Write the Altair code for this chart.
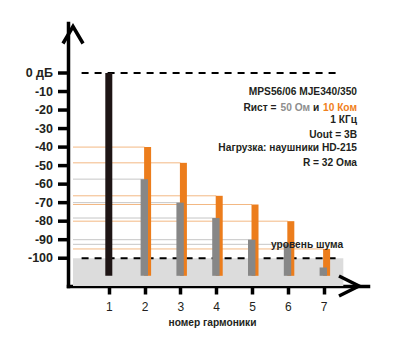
import altair as alt
import pandas as pd

# ---- data ----
harmonics = [1, 2, 3, 4, 5, 6, 7]
fundamental_db = [0, None, None, None, None, None, None]
gray_db = [None, -57.3, -70.0, -78.3, -90.0, -92.5, -105.0]     # Rист = 50 Ом
orange_db = [None, -40.0, -48.5, -66.3, -71.0, -80.0, -95.0]    # Rист = 10 Ком
y_ticks = [0, -10, -20, -30, -40, -50, -60, -70, -80, -90, -100]
y_tick_labels = ["0 дБ", "-10", "-20", "-30", "-40", "-50", "-60", "-70", "-80", "-90", "-100"]
noise_db = -100
bar_floor = -109.5

X_DOM = [0, 8.1]
Y_DOM = [-115, 27]

FONT = "Liberation Sans"
INK = "#231f20"
ORANGE = "#ec7d1c"
GRAY = "#878787"
BLACK = "#1e1515"

df = pd.DataFrame({"h": harmonics, "fund": fundamental_db, "gray": gray_db, "orange": orange_db})
df["zero"] = 0.0
df["floor"] = bar_floor
fund_df = df.dropna(subset=["fund"])
gray_df = df.dropna(subset=["gray"])
orange_df = df.dropna(subset=["orange"])
gray_lines_df = gray_df[gray_df["gray"] > noise_db]
orange_lines_df = orange_df[orange_df["orange"] > noise_db]
ytick_df = pd.DataFrame({"v": y_ticks, "lab": y_tick_labels})

xs = alt.Scale(domain=X_DOM, nice=False, zero=False)
ys = alt.Scale(domain=Y_DOM, nice=False, zero=False)

x_axis = alt.Axis(values=harmonics, title=None, grid=False, domainWidth=3.5, domainColor="black",
                  domainCap="square", tickWidth=3.5, tickSize=8, tickColor="black",
                  labelFont=FONT, labelFontSize=12, labelColor=INK, labelPadding=7,
                  labelOverlap=False)
y_axis = alt.Axis(title=None, grid=False, domainWidth=3.5, domainColor="black",
                  domainCap="square", ticks=False, labels=False)

bg_df = pd.DataFrame({"x0": [0.0], "x1": [7.55], "y0": [Y_DOM[0]], "y1": [noise_db]})
dash_df = pd.DataFrame({"x0": [0.24, 0.24], "x1": [7.42, 7.45], "y": [0, noise_db]})
arrow_y_df = pd.DataFrame({"x": [X_DOM[0]], "y": [Y_DOM[1]]})
arrow_x_df = pd.DataFrame({"x": [X_DOM[1]], "y": [Y_DOM[0]]})

# noise floor background (carries the shared scales and axes)
bg = alt.Chart(bg_df).mark_rect(color="#dcdcdc").encode(
    x=alt.X("x0:Q", scale=xs, axis=x_axis),
    x2="x1",
    y=alt.Y("y0:Q", scale=ys, axis=y_axis),
    y2="y1",
)

# y ticks and labels
y_tick_marks = alt.Chart(ytick_df).mark_rule(color="black", strokeWidth=3.5).encode(
    x=alt.value(-10), x2=alt.value(0), y="v:Q")
y_tick_text = alt.Chart(ytick_df).mark_text(align="right", baseline="middle", font=FONT,
                                            fontSize=12.5, fontWeight="bold", color=INK).encode(
    x=alt.value(-15), y="v:Q", text="lab:N")

gray_lines = alt.Chart(gray_lines_df).mark_rule(color="#c6c6c6", strokeWidth=1).encode(
    x="zero:Q", x2="h", y="gray:Q")
orange_lines = alt.Chart(orange_lines_df).mark_rule(color="#f3b883", strokeWidth=1).encode(
    x="zero:Q", x2="h", y="orange:Q")

dashes = alt.Chart(dash_df).mark_rule(color="black", strokeWidth=2, strokeDash=[7, 6]).encode(
    x="x0:Q", x2="x1", y="y:Q")

fund_bar = alt.Chart(fund_df).mark_bar(color=BLACK, width=7).encode(
    x="h:Q", y="fund:Q", y2="floor")
orange_bar = alt.Chart(orange_df).mark_bar(color=ORANGE, width=7, xOffset=3).encode(
    x="h:Q", y="orange:Q", y2="floor")
gray_bar = alt.Chart(gray_df).mark_bar(color=GRAY, width=7.4, xOffset=-0.3).encode(
    x="h:Q", y="gray:Q", y2="floor")

# arrowheads at the axis ends (offset so the mitred tip lands on the axis end)
y_arrow = alt.Chart(arrow_y_df).mark_point(shape="M-0.59,1L0,0L0.59,1", size=1156, filled=False,
                                           strokeWidth=3.5, color="black", opacity=1,
                                           yOffset=3.5).encode(x="x:Q", y="y:Q")
x_arrow = alt.Chart(arrow_x_df).mark_point(shape="M-1,-0.5L0,0L-1,0.5", size=1600, filled=False,
                                           strokeWidth=3.5, color="black", opacity=1,
                                           xOffset=-4).encode(x="x:Q", y="y:Q")

one = pd.DataFrame({"k": [0]})


def txt(s, x, y, align="right", color=INK, size=10.2, weight="bold"):
    return alt.Chart(one).mark_text(text=s, align=align, baseline="alphabetic", font=FONT,
                                    fontSize=size, fontWeight=weight, color=color).encode(
        x=alt.value(x), y=alt.value(y))


texts = [
    txt("MPS56/06 MJE340/350", 289, 72),
    txt("Rист =", 175.5, 87.5, align="left"),
    txt("50 Ом", 212.5, 87.5, align="left", color="#8e8e8e"),
    txt("и", 245, 87.5, align="left"),
    txt("10 Ком", 289, 87.5, color="#f08020"),
    txt("1 КГц", 289, 99.5),
    txt("Uout = 3В", 289, 114.5),
    txt("Нагрузка: наушники HD-215", 289, 128),
    txt("R = 32 Ома", 289, 142.5),
    txt("уровень шума", 203, 225, align="left"),
    txt("номер гармоники", 144.5, 303, align="center"),
]

chart = alt.layer(bg, y_tick_marks, y_tick_text, gray_lines, orange_lines, dashes, fund_bar,
                  orange_bar, gray_bar, y_arrow, x_arrow, *texts).properties(
    width=300, height=263, autosize="none",
    padding={"left": 68, "top": 23, "right": 32, "bottom": 66},
    background="white",
).configure_view(stroke=None)

chart.save("out.html", embed_options={"renderer": "svg", "actions": False})
